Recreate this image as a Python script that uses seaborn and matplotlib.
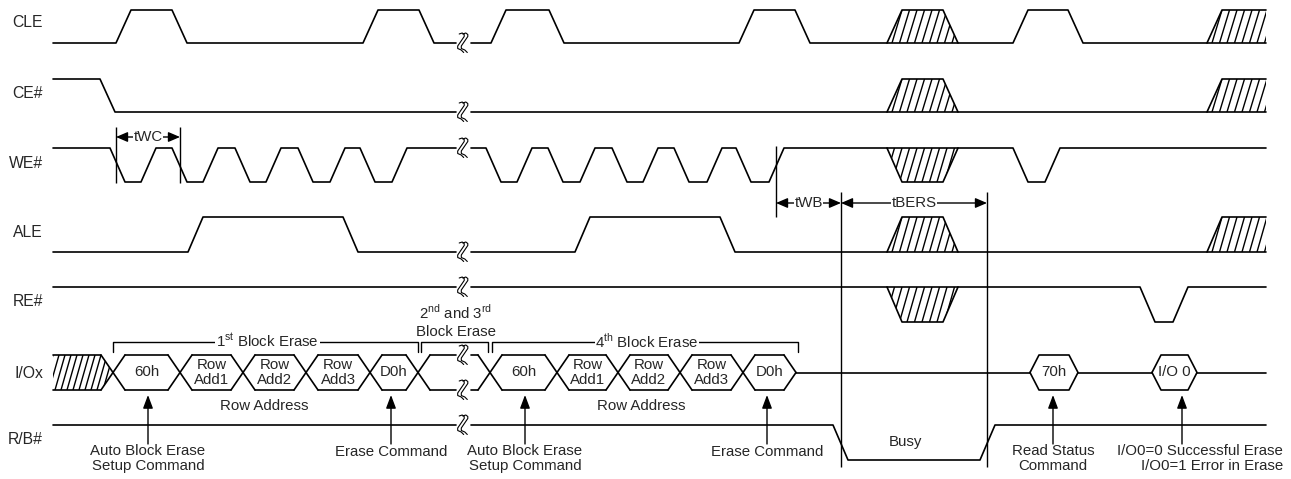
import numpy as np
import pandas as pd
import matplotlib
matplotlib.use("Agg")
import matplotlib.pyplot as plt
from matplotlib.patches import Polygon
import seaborn as sns

# ---- data (drawing units, left to right) ----
signals = ["CLE", "CE#", "WE#", "ALE", "RE#", "I/Ox", "R/B#"]
start_level = [0, 1, 1, 0, 1, None, 1]
cle_edges = [116, 172, 363, 419, 491, 549, 739, 795, 1013, 1068]
ce_edges = [100]
we_edges = [110, 141, 172, 203, 235, 266, 298, 330, 360, 392,
            486, 517, 548, 580, 612, 643, 674, 707, 736, 769, 1013, 1045]
ale_edges = [188, 343, 575, 720]
re_edges = [1140, 1173]
rb_edges = [833, 980]

dc_first_rows = ["CLE", "CE#", "WE#", "ALE", "RE#"]   # hatched pulse at 887
dc_first_start = 887
dc_last_rows = ["CLE", "CE#", "ALE"]                  # hatched at the end
dc_last_start = 1207

io_cells = ["60h", "Row\nAdd1", "Row\nAdd2", "Row\nAdd3", "D0h"]
io_bounds_1st = [113, 180, 243, 306, 370, 418]
io_bounds_4th = [490, 557, 618, 680, 743, 796]
status_cells = ["70h", "I/O 0"]
status_bounds = [(1030, 1078), (1152, 1197)]

timing_labels = ["tWC", "tWB", "tBERS"]
timing_spans = [(116, 180), (776, 841), (841, 987)]

brackets = [r"1$^{\mathrm{st}}$ Block Erase", "", r"4$^{\mathrm{th}}$ Block Erase"]
bracket_spans = [(113, 418), (421, 488), (492, 798)]

notes = ["Auto Block Erase\nSetup Command", "Erase Command",
         "Auto Block Erase\nSetup Command", "Erase Command",
         "Read Status\nCommand"]
note_x = [148, 391, 525, 767, 1053]

# ---- layout ----
hi_y = [10, 79, 148, 217, 287, 355, 425]
lo_y = [43, 112, 182, 252, 322, 390, 460]
lab_y = [22, 93, 163, 232, 302, 374, 439]
T0, T1 = 53, 1266
GAP0, GAP1, BRK = 456, 471, 463
SLEW = 15
LW = 1.2
FS = 10.8

sns.set_style("white")
plt.rcParams["font.family"] = ["Liberation Sans", "DejaVu Sans"]
plt.rcParams["mathtext.fontset"] = "custom"
plt.rcParams["mathtext.rm"] = "Liberation Sans"

fig = plt.figure(figsize=(12.91, 4.79), dpi=100)
ax = fig.add_axes([0, 0, 1, 1])

rows = []
seg_id = [0]


def add_seg(xs, ys):
    for x, y in zip(xs, ys):
        rows.append((seg_id[0], x, y))
    seg_id[0] += 1


def wave(level, edges):
    xs, ls = [T0], [level]
    for e in edges:
        xs.append(e); ls.append(level)
        level = 1 - level
        xs.append(e + SLEW); ls.append(level)
    xs.append(T1); ls.append(level)
    return np.array(xs, float), np.array(ls, float)


edge_lists = [cle_edges, ce_edges, we_edges, ale_edges, re_edges, None, rb_edges]
for i, name in enumerate(signals):
    if edge_lists[i] is None:
        continue
    xs, ls = wave(start_level[i], edge_lists[i])
    ys = lo_y[i] - ls * (lo_y[i] - hi_y[i])
    yg0 = np.interp(GAP0, xs, ys)
    yg1 = np.interp(GAP1, xs, ys)
    m = xs < GAP0
    add_seg(list(xs[m]) + [GAP0], list(ys[m]) + [yg0])
    m = xs > GAP1
    add_seg([GAP1] + list(xs[m]), [yg1] + list(ys[m]))


def hatch(verts, step=7.5, lean=10):
    poly = Polygon(verts, closed=True, fill=False, edgecolor="none")
    ax.add_patch(poly)
    vx = [v[0] for v in verts]
    vy = [v[1] for v in verts]
    for x in np.arange(min(vx) - lean, max(vx) + step, step):
        ln, = ax.plot([x, x + lean], [max(vy), min(vy)], color="k", lw=1.0)
        ln.set_clip_path(poly)


# don't-care pulses
for name in dc_first_rows:
    i = signals.index(name)
    s = dc_first_start
    if name in ("WE#", "RE#"):
        base, peak = hi_y[i], lo_y[i]
    else:
        base, peak = lo_y[i], hi_y[i]
    px = [s, s + SLEW, s + 56, s + 71]
    py = [base, peak, peak, base]
    add_seg(px, py)
    hatch(list(zip(px, py)))
for name in dc_last_rows:
    i = signals.index(name)
    s = dc_last_start
    px = [s, s + SLEW, T1]
    py = [lo_y[i], hi_y[i], hi_y[i]]
    add_seg(px, py)
    hatch(list(zip(px + [T1], py + [lo_y[i]])))

# I/O bus
k = signals.index("I/Ox")
TB, BB = hi_y[k], lo_y[k]
MB = (TB + BB) / 2
H = 12
hatch([(T0, TB), (io_bounds_1st[0] - H, TB), (io_bounds_1st[0], MB),
       (io_bounds_1st[0] - H, BB), (T0, BB)], step=6)
add_seg([T0, io_bounds_1st[0] - H], [TB, TB])
add_seg([T0, io_bounds_1st[0] - H], [BB, BB])
for group in (io_bounds_1st, io_bounds_4th[:-1]):
    for c in group:
        add_seg([c - H, c + H], [TB, BB])
        add_seg([c - H, c + H], [BB, TB])
    for a, b in zip(group[:-1], group[1:]):
        add_seg([a + H, b - H], [TB, TB])
        add_seg([a + H, b - H], [BB, BB])
for yy in (TB, BB):
    add_seg([io_bounds_1st[-1] + H, GAP0], [yy, yy])
    add_seg([GAP1, io_bounds_4th[0] - H], [yy, yy])
    add_seg([io_bounds_4th[-2] + H, io_bounds_4th[-1] - H], [yy, yy])
end = io_bounds_4th[-1]
add_seg([end - H, end], [TB, MB])
add_seg([end - H, end], [BB, MB])
prev = end
for a, b in status_bounds:
    add_seg([prev, a], [MB, MB])
    add_seg([a, a + 9, b - 9, b, b - 9, a + 9, a], [MB, TB, TB, MB, BB, BB, MB])
    prev = b
add_seg([prev, T1], [MB, MB])

df = pd.DataFrame(rows, columns=["seg", "x", "y"])
sns.lineplot(data=df, x="x", y="y", units="seg", estimator=None, sort=False,
             color="black", lw=LW, legend=False, ax=ax)

# break marks: double "2"-shaped stroke
stroke_x = np.array([-2.0, 1.0, 3.0, 3.0, -3.5, -3.5, 0.0, 2.5])
stroke_y = np.array([-9.0, -10.0, -8.5, -6.5, 3.0, 5.5, 7.0, 9.5])
for yb in [43, 112, 148, 252, 287, TB, BB, 425]:
    for off in (-1.8, 1.8):
        ax.plot(BRK + off + stroke_x, yb + stroke_y, color="k", lw=0.8)

# cell text
for cells, bounds in ((io_cells, io_bounds_1st), (io_cells, io_bounds_4th)):
    for txt, a, b in zip(cells, bounds[:-1], bounds[1:]):
        ax.text((a + b) / 2, MB, txt, ha="center", va="center", fontsize=FS,
                linespacing=1.15)
for txt, (a, b) in zip(status_cells, status_bounds):
    ax.text((a + b) / 2, MB, txt, ha="center", va="center", fontsize=FS)

for xc in (264, 641):
    ax.text(xc, 406, "Row Address", ha="center", va="center", fontsize=FS)

# brackets
for lab, (a, b) in zip(brackets, bracket_spans):
    ax.plot([a, a, b, b], [352, 342, 342, 352], color="k", lw=1.0)
    if lab:
        ax.text((a + b) / 2 + 2, 341, lab, ha="center", va="center", fontsize=FS,
                bbox=dict(facecolor="white", edgecolor="none", pad=0.5))
ax.text(456, 312, r"2$^{\mathrm{nd}}$ and 3$^{\mathrm{rd}}$", ha="center",
        va="center", fontsize=FS)
ax.text(456, 332, "Block Erase", ha="center", va="center", fontsize=FS)

# timing markers
ax.vlines([116, 180], 127, 183, color="k", lw=1.0)
ax.vlines([776], 146, 217, color="k", lw=1.0)
ax.vlines([841, 987], 192, 467, color="k", lw=1.0)
for lab, (a, b), yy in zip(timing_labels, timing_spans, [137, 203, 203]):
    ax.annotate("", xy=(a, yy), xytext=(b, yy),
                arrowprops=dict(arrowstyle="<|-|>,head_length=0.7,head_width=0.3",
                                color="k", lw=1.0, shrinkA=0, shrinkB=0))
    ax.text((a + b) / 2, yy, lab, ha="center", va="center", fontsize=FS,
            bbox=dict(facecolor="white", edgecolor="none", pad=0.3))

# pointer arrows and notes
for xa in note_x + [1182]:
    ax.annotate("", xy=(xa, 395), xytext=(xa, 444),
                arrowprops=dict(arrowstyle="-|>,head_length=0.8,head_width=0.3",
                                color="k", lw=1.0, shrinkA=0, shrinkB=0))
for txt, xa in zip(notes, note_x):
    if "\n" in txt:
        ax.text(xa, 444, txt, ha="center", va="top", fontsize=FS, linespacing=1.05)
    else:
        ax.text(xa, 452, txt, ha="center", va="center", fontsize=FS)
ax.text(1283, 444, "I/O0=0 Successful Erase\nI/O0=1 Error in Erase", ha="right",
        va="top", fontsize=FS, linespacing=1.05, multialignment="right")
ax.text(905, 442, "Busy", ha="center", va="center", fontsize=FS)

# signal names
for name, yy in zip(signals, lab_y):
    ax.text(43, yy, name, ha="right", va="center", fontsize=11.3)

ax.set_xlim(0, 1291)
ax.set_ylim(479, 0)
ax.axis("off")
fig.savefig("out.png", dpi=100)
